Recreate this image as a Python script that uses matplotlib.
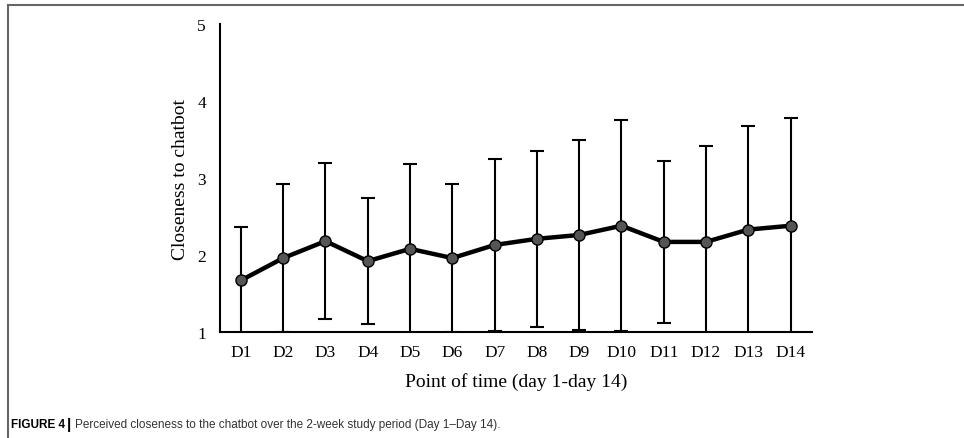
import matplotlib.pyplot as plt
from matplotlib.lines import Line2D

days = ['D1', 'D2', 'D3', 'D4', 'D5', 'D6', 'D7', 'D8', 'D9', 'D10', 'D11', 'D12', 'D13', 'D14']
means = [1.67, 1.96, 2.18, 1.92, 2.08, 1.96, 2.13, 2.21, 2.26, 2.38, 2.17, 2.17, 2.33, 2.38]
sds = [0.70, 0.96, 1.01, 0.82, 1.10, 0.96, 1.12, 1.14, 1.23, 1.37, 1.05, 1.24, 1.34, 1.40]

fig = plt.figure(figsize=(9.64, 4.39), dpi=100)
ax = fig.add_axes([0.228, 0.2415, 0.614, 0.7015])

x = list(range(1, len(days) + 1))
ax.errorbar(x, means, yerr=sds, fmt='none', ecolor='black', elinewidth=1.5,
            capsize=5, capthick=1.5, zorder=2)
ax.plot(x, means, color='black', lw=3.2, marker='o', markersize=8,
        markerfacecolor='#555555', markeredgecolor='black', markeredgewidth=1, zorder=3)

ax.set_xlim(0.5, 14.5)
ax.set_ylim(1, 5)
ax.set_yticks([1, 2, 3, 4, 5])
ax.set_xticks(x)
ax.set_xticklabels(days)
ax.tick_params(length=0, labelsize=12.5, pad=9)
for lab in ax.get_xticklabels() + ax.get_yticklabels():
    lab.set_fontfamily('Liberation Serif')
ax.tick_params(axis='y', pad=10)
ax.spines['top'].set_visible(False)
ax.spines['right'].set_visible(False)
ax.spines['left'].set_linewidth(1.5)
ax.spines['bottom'].set_linewidth(1.5)
ax.set_ylabel('Closeness to chatbot', fontfamily='Liberation Serif', fontsize=14, labelpad=6)
ax.set_xlabel('Point of time (day 1-day 14)', fontfamily='Liberation Serif', fontsize=14, labelpad=8)

# outer frame (top and left edges)
fig.add_artist(Line2D([8 / 964, 1], [1 - 6 / 439, 1 - 6 / 439], color='#666666', lw=1.5))
fig.add_artist(Line2D([8 / 964, 8 / 964], [0, 1 - 6 / 439], color='#666666', lw=1.5))

fig.text(11 / 964, 1 - 425 / 439, 'FIGURE 4', fontfamily='Liberation Sans', fontweight='bold',
         fontsize=8.5, va='center')
fig.text(67 / 964, 1 - 425 / 439, '|', fontfamily='Liberation Sans', fontweight='bold',
         fontsize=11, va='center')
fig.text(75 / 964, 1 - 425 / 439,
         'Perceived closeness to the chatbot over the 2-week study period (Day 1\u2013Day 14).',
         fontfamily='Liberation Sans', fontsize=8.5, va='center', color='#333333')

fig.savefig('out.png', dpi=100)
